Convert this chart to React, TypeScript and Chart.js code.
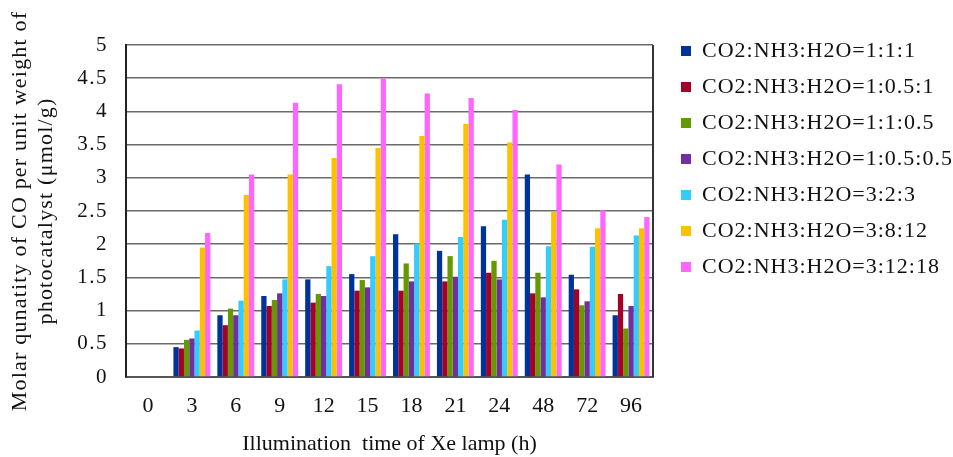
import React, { useEffect, useRef } from "react";
import { Chart, registerables } from "chart.js";

Chart.register(...registerables);

const categories = ["0", "3", "6", "9", "12", "15", "18", "21", "24", "48", "72", "96"];

const seriesNames = [
  "CO2:NH3:H2O=1:1:1",
  "CO2:NH3:H2O=1:0.5:1",
  "CO2:NH3:H2O=1:1:0.5",
  "CO2:NH3:H2O=1:0.5:0.5",
  "CO2:NH3:H2O=3:2:3",
  "CO2:NH3:H2O=3:8:12",
  "CO2:NH3:H2O=3:12:18",
];

const ratio111 = [0, 0.45, 0.93, 1.22, 1.47, 1.55, 2.15, 1.9, 2.27, 3.05, 1.54, 0.93];
const ratio1_05_1 = [0, 0.43, 0.78, 1.07, 1.12, 1.3, 1.3, 1.44, 1.57, 1.26, 1.32, 1.25];
const ratio1_1_05 = [0, 0.56, 1.03, 1.16, 1.25, 1.46, 1.71, 1.82, 1.75, 1.57, 1.08, 0.73];
const ratio1_05_05 = [0, 0.58, 0.93, 1.26, 1.22, 1.35, 1.44, 1.51, 1.47, 1.2, 1.14, 1.07];
const ratio323 = [0, 0.7, 1.15, 1.47, 1.67, 1.82, 2.01, 2.11, 2.37, 1.97, 1.96, 2.13];
const ratio3812 = [0, 1.95, 2.74, 3.05, 3.3, 3.45, 3.63, 3.81, 3.53, 2.49, 2.24, 2.24];
const ratio31218 = [0, 2.17, 3.05, 4.13, 4.41, 4.49, 4.27, 4.2, 4.02, 3.2, 2.51, 2.41];

const seriesValues = [ratio111, ratio1_05_1, ratio1_1_05, ratio1_05_05, ratio323, ratio3812, ratio31218];
const seriesColors = ["#003399", "#a50026", "#669900", "#7030a0", "#33ccff", "#ffc000", "#ff66ff"];

const yTickLabels = ["0", "0.5", "1", "1.5", "2", "2.5", "3", "3.5", "4", "4.5", "5"];

const yTitle = ["Molar qunatity of CO per unit weight of", "photocatalyst (\u03bcmol/g)"];
const xTitle = "Illumination  time of Xe lamp (h)";

const FONT = "'Liberation Serif', 'Times New Roman', serif";

const tweakPlugin = {
  id: "tweak",
  beforeUpdate(chart: any) {
    const lg = chart.legend;
    if (lg && !lg.__wrapped) {
      lg.__wrapped = true;
      const origFit = lg.fit.bind(lg);
      lg.fit = function () {
        const ctx = this.ctx;
        ctx.save();
        ctx.letterSpacing = "1px";
        origFit();
        ctx.restore();
        this.width = 300;
      };
      const origDraw = lg.draw.bind(lg);
      lg.draw = function () {
        const ctx = this.ctx;
        const t = this.top;
        const l = this.left;
        this.top = 26;
        this.left = 667;
        ctx.save();
        ctx.letterSpacing = "1px";
        origDraw();
        ctx.restore();
        this.top = t;
        this.left = l;
      };
    }
  },
  beforeDraw(chart: any) {
    const ys = chart.scales.y;
    if (ys && !ys.__wrapped) {
      ys.__wrapped = true;
      const origT = ys.drawTitle.bind(ys);
      ys.drawTitle = function () {
        const ctx = this.ctx;
        ctx.save();
        ctx.letterSpacing = "1.2px";
        origT();
        ctx.restore();
      };
      const origL = ys.drawLabels.bind(ys);
      ys.drawLabels = function (area: any) {
        const ctx = this.ctx;
        ctx.save();
        ctx.letterSpacing = "1.5px";
        origL(area);
        ctx.restore();
      };
    }
  },
  afterDraw(chart: any) {
    const { ctx, chartArea } = chart;
    ctx.save();
    ctx.strokeStyle = "#333333";
    ctx.lineWidth = 2;
    ctx.beginPath();
    ctx.moveTo(chartArea.right, chartArea.top);
    ctx.lineTo(chartArea.right, chartArea.bottom);
    ctx.stroke();
    ctx.restore();
  },
};

export default function App() {
  const ref = useRef<HTMLCanvasElement>(null);

  useEffect(() => {
    document.body.style.margin = "0";
    const canvas = ref.current;
    if (!canvas) return;
    const chart = new Chart(canvas, {
      type: "bar",
      data: {
        labels: categories,
        datasets: seriesNames.map((name, i) => ({
          label: name,
          data: seriesValues[i],
          backgroundColor: seriesColors[i],
          borderWidth: 0,
          categoryPercentage: 0.84,
          barPercentage: 1.0,
        })),
      },
      options: {
        animation: false,
        responsive: true,
        maintainAspectRatio: false,
        layout: { padding: { top: 45, left: 0, right: 0, bottom: 0 } },
        plugins: {
          tooltip: { enabled: false },
          legend: {
            display: true,
            position: "right",
            align: "start",
            labels: {
              boxWidth: 10,
              boxHeight: 10,
              padding: 14,
              color: "#111111",
              font: { family: FONT, size: 22 },
            },
          },
        },
        scales: {
          x: {
            grid: { display: false, drawTicks: false },
            border: { display: true, color: "#555555", width: 2 },
            ticks: {
              color: "#111111",
              font: { family: FONT, size: 22 },
              padding: 16,
              maxRotation: 0,
              autoSkip: false,
            },
            title: {
              display: true,
              text: xTitle,
              color: "#111111",
              font: { family: FONT, size: 22 },
              padding: { top: 0, bottom: 0 },
            },
            afterFit: (s: any) => {
              s.height = 80;
            },
          },
          y: {
            min: 0,
            max: 5,
            ticks: {
              stepSize: 0.5,
              color: "#111111",
              font: { family: FONT, size: 21 },
              padding: 18,
              callback: (_v: any, i: number) => yTickLabels[i],
            },
            grid: { color: "#6a6a6a", lineWidth: 1.6, drawTicks: false },
            border: { display: true, color: "#222222", width: 2 },
            title: {
              display: true,
              text: yTitle,
              color: "#111111",
              font: { family: FONT, size: 22, lineHeight: 1.18 },
              padding: { top: 7, bottom: 0 },
            },
            afterFit: (s: any) => {
              s.width = 126;
            },
          },
        },
      },
      plugins: [tweakPlugin],
    });
    return () => chart.destroy();
  }, []);

  return (
    <div style={{ position: "relative", width: 953, height: 457 }}>
      <canvas ref={ref} />
    </div>
  );
}
